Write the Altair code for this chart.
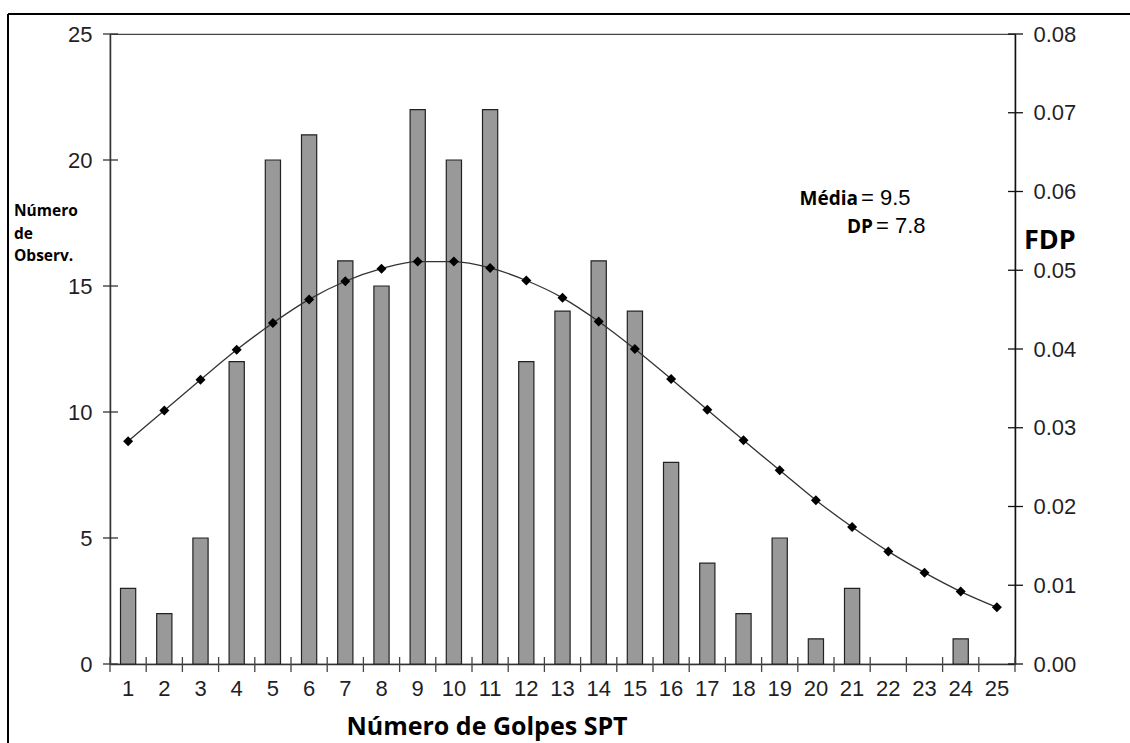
import altair as alt
import pandas as pd

# ---- data ----
golpes = list(range(1, 26))
observ = [3, 2, 5, 12, 20, 21, 16, 15, 22, 20, 22, 12, 14, 16, 14, 8, 4, 2, 5, 1, 3, 0, 0, 1, 0]
fdp = [0.0283, 0.0322, 0.0361, 0.0399, 0.0433, 0.0463, 0.0486, 0.0502, 0.0511, 0.0511,
       0.0503, 0.0487, 0.0465, 0.0435, 0.0400, 0.0362, 0.0323, 0.0284, 0.0246, 0.0208,
       0.0174, 0.0143, 0.0116, 0.0092, 0.0072]
left_ticks = [0, 5, 10, 15, 20, 25]
right_ticks = [0.0, 0.01, 0.02, 0.03, 0.04, 0.05, 0.06, 0.07, 0.08]

df = pd.DataFrame({"n": golpes, "count": observ, "pdf": fdp})
df_left = pd.DataFrame({"v": left_ticks})
df_right = pd.DataFrame({"v": right_ticks})

W, H = 905, 630
LABEL_FONT = "Liberation Sans"
BOLD_FONT = "Open Sans"
AX = "#333333"
LBL = "#1f1f2a"

xscale = alt.Scale(domain=golpes, paddingInner=0, paddingOuter=0)
yl = alt.Scale(domain=[0, 25], nice=False)
yr = alt.Scale(domain=[0, 0.08], nice=False)
xaxis = alt.Axis(
    title=None, labelAngle=0, ticks=False, domain=True, domainColor=AX, domainWidth=1.5,
    labelFont=LABEL_FONT, labelFontSize=22, labelColor=LBL, labelPadding=14, grid=False)

bars = alt.Chart(df).transform_filter("datum.count > 0").mark_bar(
    width=alt.RelativeBandSize(0.42), color="#999999", stroke="#222222", strokeWidth=1.2
).encode(
    x=alt.X("n:O", scale=xscale, axis=xaxis),
    y=alt.Y("count:Q", scale=yl, axis=alt.Axis(
        orient="left", values=left_ticks, title=None, ticks=False, grid=False,
        domainColor=AX, domainWidth=1.5, labelFont=LABEL_FONT, labelFontSize=22,
        labelColor=LBL, labelPadding=18)),
)

line = alt.Chart(df).mark_line(color="#333333", strokeWidth=1.3, interpolate="monotone").encode(
    x=alt.X("n:O", scale=xscale, axis=xaxis),
    y=alt.Y("pdf:Q", scale=yr, axis=alt.Axis(
        orient="right", values=right_ticks, format=".2f", title=None, ticks=False, grid=False,
        domainColor="#111111", domainWidth=1.5, labelFont=LABEL_FONT, labelFontSize=22,
        labelColor=LBL, labelPadding=18)),
)

pts = alt.Chart(df).mark_point(shape="diamond", filled=True, color="black", size=100, opacity=1).encode(
    x=alt.X("n:O", scale=xscale, axis=xaxis),
    y=alt.Y("pdf:Q", scale=yr, axis=None),
)

# crossing tick marks
lt = alt.Chart(df_left).mark_rule(color=AX, strokeWidth=1.3).encode(
    y=alt.Y("v:Q", scale=yl, axis=None), x=alt.value(-7), x2=alt.value(8))
rt = alt.Chart(df_right).mark_rule(color="#111111", strokeWidth=1.3).encode(
    y=alt.Y("v:Q", scale=yr, axis=None), x=alt.value(W - 7), x2=alt.value(W + 8))
xt = alt.Chart(df).mark_rule(color="#444444", strokeWidth=1.3).encode(
    x=alt.X("n:O", scale=xscale, bandPosition=0, axis=xaxis),
    y=alt.value(H - 7), y2=alt.value(H + 8))
xt_end = alt.Chart(alt.Data(values=[{}])).mark_rule(color="#444444", strokeWidth=1.3).encode(
    x=alt.value(W), y=alt.value(H - 7), y2=alt.value(H + 8))

one = alt.Data(values=[{}])

# outer frame
frame_top = alt.Chart(one).mark_rule(color="black", strokeWidth=2).encode(
    x=alt.value(-102), x2=alt.value(1020), y=alt.value(-20))
frame_left = alt.Chart(one).mark_rule(color="black", strokeWidth=2).encode(
    x=alt.value(-102), y=alt.value(-20), y2=alt.value(709))

def txt(s, x, y, size, bold=False, align="left", color="black"):
    return alt.Chart(one).mark_text(
        text=s, align=align, baseline="alphabetic", fontSize=size,
        font=BOLD_FONT if bold else LABEL_FONT,
        fontWeight="bold" if bold else "normal", color=color
    ).encode(x=alt.value(x), y=alt.value(y))

xtitle = txt("Número de Golpes SPT", 377, 701, 25, bold=True, align="center")
ytitle = alt.Chart(one).mark_text(
    text=["Número", "de", "Observ."], align="left", baseline="alphabetic", fontSize=15.5,
    font=BOLD_FONT, fontWeight="bold", color="black", lineHeight=22.5
).encode(x=alt.value(-96), y=alt.value(182))
fdp_t = txt("FDP", 914, 215, 27, bold=True)
media_b = txt("Média", 748, 171, 19, bold=True, align="right")
media_v = txt("= 9.5", 751, 171, 22)
dp_b = txt("DP", 763, 199, 19, bold=True, align="right")
dp_v = txt("= 7.8", 766, 199, 22)

chart = alt.layer(
    bars, line, pts, lt, rt, xt, xt_end, frame_top, frame_left,
    xtitle, ytitle, fdp_t, media_b, media_v, dp_b, dp_v
).resolve_scale(y="independent").properties(
    width=W, height=H,
    padding={"left": 110, "top": 34, "right": 115, "bottom": 79},
    autosize=alt.AutoSizeParams(type="none"),
    background="white",
).configure_view(stroke="#444444", strokeWidth=1.2)

chart.save("out.html", embed_options={"renderer": "svg", "actions": False})
